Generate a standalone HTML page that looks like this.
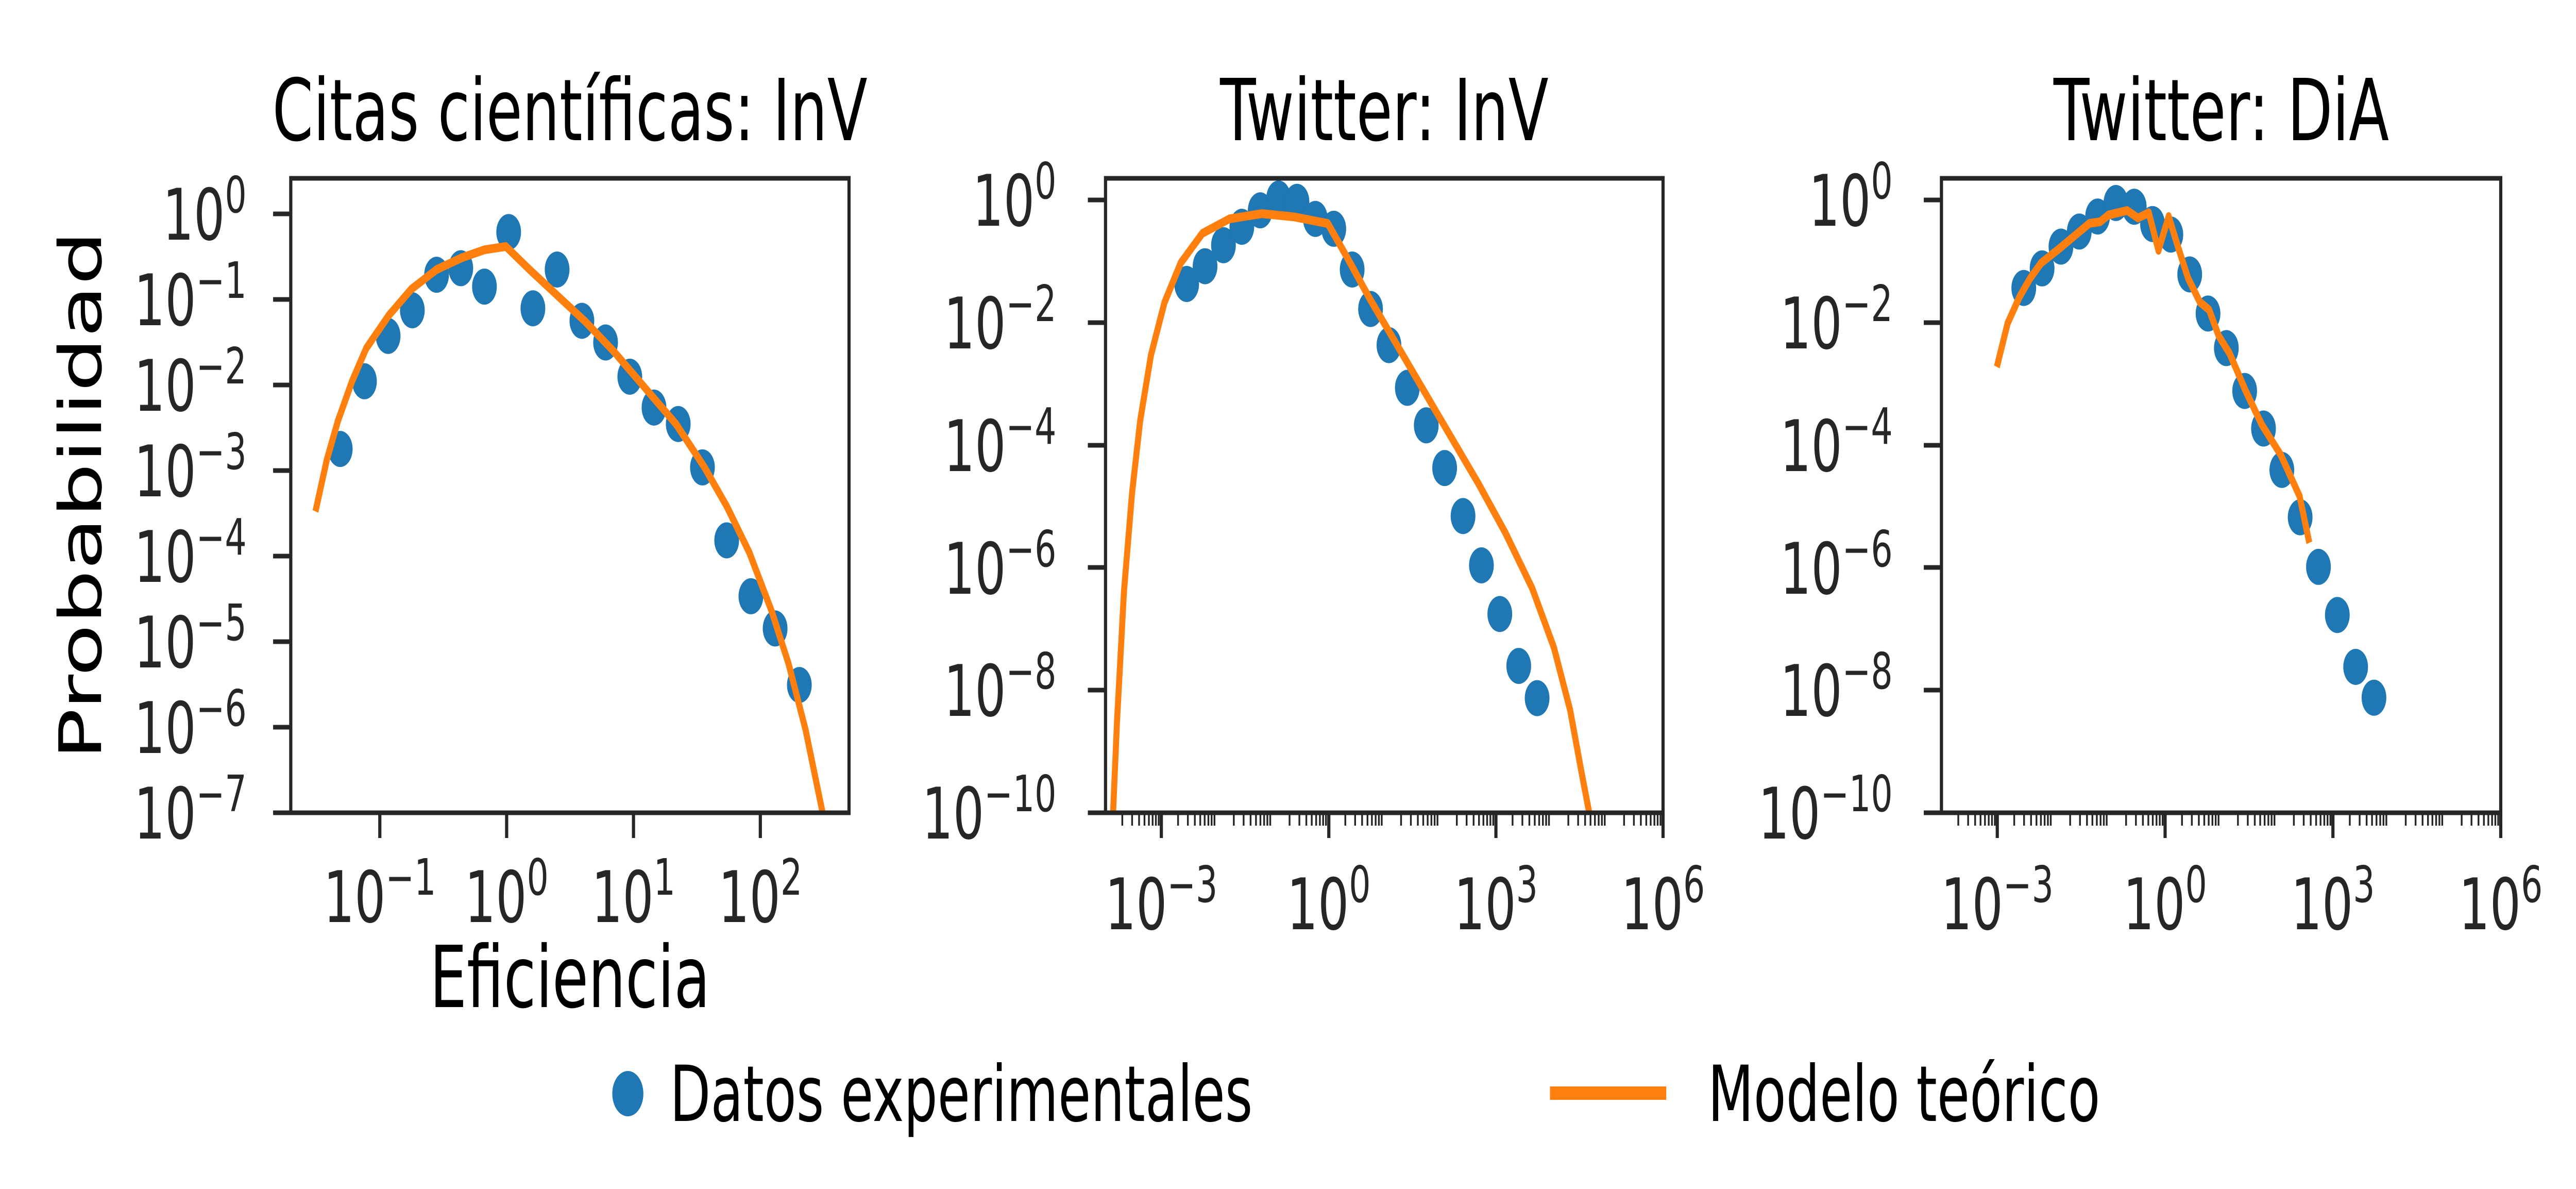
<!DOCTYPE html>
<html><head><meta charset="utf-8"><style>
html,body{margin:0;padding:0;background:#fff;width:100vw;height:100vh;overflow:hidden;}
svg{display:block;width:100vw;height:100vh;}
text{font-family:"DejaVu Sans","Liberation Sans",sans-serif;}
.t{font-size:138px;fill:#262626;}
.s{font-size:97px;}
.ttl{font-size:166px;fill:#000;}
.lg{font-size:150px;fill:#000;}
</style></head><body>
<svg id="c" viewBox="0 0 7291 2307" preserveAspectRatio="none" xmlns="http://www.w3.org/2000/svg">
<rect width="7291" height="2307" fill="#fff"/>
<g id="plots"></g>
<text class="ttl" x="1613" y="272" text-anchor="middle">Citas científicas: InV</text>
<text class="ttl" x="3918" y="272" text-anchor="middle">Twitter: InV</text>
<text class="ttl" x="6287" y="272" text-anchor="middle">Twitter: DiA</text>
<text class="ttl" x="1613" y="1954" text-anchor="middle">Eficiencia</text>
<text class="ttl" transform="translate(286,961) rotate(-90)" text-anchor="middle">Probabilidad</text>
<g class="t" text-anchor="end">
<text x="698" y="465">10<tspan class="s" dy="-53">0</tspan></text>
<text x="698" y="631">10<tspan class="s" dy="-53">−1</tspan></text>
<text x="698" y="797">10<tspan class="s" dy="-53">−2</tspan></text>
<text x="698" y="963">10<tspan class="s" dy="-53">−3</tspan></text>
<text x="698" y="1129">10<tspan class="s" dy="-53">−4</tspan></text>
<text x="698" y="1295">10<tspan class="s" dy="-53">−5</tspan></text>
<text x="698" y="1461">10<tspan class="s" dy="-53">−6</tspan></text>
<text x="698" y="1627">10<tspan class="s" dy="-53">−7</tspan></text>
</g>
<g class="t" text-anchor="middle">
<text x="1075" y="1789">10<tspan class="s" dy="-53">−1</tspan></text>
<text x="1434" y="1789">10<tspan class="s" dy="-53">0</tspan></text>
<text x="1793" y="1789">10<tspan class="s" dy="-53">1</tspan></text>
<text x="2152" y="1789">10<tspan class="s" dy="-53">2</tspan></text>
</g>
<g class="t" text-anchor="end">
<text x="2990" y="438">10<tspan class="s" dy="-53">0</tspan></text>
<text x="2990" y="676">10<tspan class="s" dy="-53">−2</tspan></text>
<text x="2990" y="914">10<tspan class="s" dy="-53">−4</tspan></text>
<text x="2990" y="1152">10<tspan class="s" dy="-53">−6</tspan></text>
<text x="2990" y="1389">10<tspan class="s" dy="-53">−8</tspan></text>
<text x="2990" y="1627">10<tspan class="s" dy="-53">−10</tspan></text>
</g>
<g class="t" text-anchor="middle">
<text x="3287" y="1803">10<tspan class="s" dy="-53">−3</tspan></text>
<text x="3761" y="1803">10<tspan class="s" dy="-53">0</tspan></text>
<text x="4234" y="1803">10<tspan class="s" dy="-53">3</tspan></text>
<text x="4707" y="1803">10<tspan class="s" dy="-53">6</tspan></text>
</g>
<g class="t" text-anchor="end">
<text x="5357" y="438">10<tspan class="s" dy="-53">0</tspan></text>
<text x="5357" y="676">10<tspan class="s" dy="-53">−2</tspan></text>
<text x="5357" y="914">10<tspan class="s" dy="-53">−4</tspan></text>
<text x="5357" y="1152">10<tspan class="s" dy="-53">−6</tspan></text>
<text x="5357" y="1389">10<tspan class="s" dy="-53">−8</tspan></text>
<text x="5357" y="1627">10<tspan class="s" dy="-53">−10</tspan></text>
</g>
<g class="t" text-anchor="middle">
<text x="5653" y="1803">10<tspan class="s" dy="-53">−3</tspan></text>
<text x="6128" y="1803">10<tspan class="s" dy="-53">0</tspan></text>
<text x="6603" y="1803">10<tspan class="s" dy="-53">3</tspan></text>
<text x="7078" y="1803">10<tspan class="s" dy="-53">6</tspan></text>
</g>
<circle cx="1777" cy="2122" r="44" fill="#1f77b4"/>
<text class="lg" x="1896" y="2175">Datos experimentales</text>
<line x1="4387" y1="2121" x2="4716" y2="2121" stroke="#ff7f0e" stroke-width="26"/>
<text class="lg" x="4834" y="2175">Modelo teórico</text>
</svg>
<script>
(function(){
var NS="http://www.w3.org/2000/svg",g=document.getElementById("plots");
function el(n,a){var e=document.createElementNS(NS,n);for(var k in a)e.setAttribute(k,a[k]);g.appendChild(e);return e;}
var SP="#262626";
function panel(L,R,T,B,dots,line,ox,sx,sy,yt,xt,minor){
  var d="";line.forEach(function(p,i){d+=(i?"L":"M")+(ox+p[0]/sx).toFixed(1)+","+(p[1]/sy).toFixed(1);});
  dots.forEach(function(p){el("circle",{cx:ox+p[0]/sx,cy:p[1]/sy,r:35,fill:"#1f77b4"});});
  el("path",{d:d,fill:"none",stroke:"#ff7f0e","stroke-width":17,"stroke-linejoin":"round"});
  yt.forEach(function(y){el("line",{x1:L-50,y1:y,x2:L,y2:y,stroke:SP,"stroke-width":9});});
  xt.forEach(function(x){el("line",{x1:x,y1:B,x2:x,y2:B+49,stroke:SP,"stroke-width":9});});
  if(minor){
    var dec=(R-L)/10;
    for(var k=-4;k<6;k++)for(var m=2;m<10;m++){
      var x=L+(k+4+Math.log10(m))*dec;
      el("line",{x1:x,y1:B,x2:x,y2:B+25,stroke:SP,"stroke-width":5});
    }
  }
  el("rect",{x:L,y:T,width:R-L,height:B-T,fill:"none",stroke:SP,"stroke-width":9});
}
panel(823,2403,346,1577,
 [[604,683],[647,580],[689,511],[732,472],[775,418],[818,408],[860,436],[903,353],[946,469],[989,410],[1033,488],[1075,521],[1118,573],[1161,620],[1204,645],[1247,711],[1290,822],[1333,907],[1376,956],[1419,1042]],
 [[560,778],[580,700],[600,640],[625,580],[650,530],[690,480],[730,440],[775,410],[820,392],[860,380],[898,375],[940,410],[990,450],[1040,490],[1090,535],[1140,585],[1200,645],[1250,710],[1290,770],[1330,840],[1370,930],[1400,1010],[1430,1110],[1460,1235]],
 0,0.6272,0.784,
 [415,581,747,913,1079,1245,1411,1577],[1075,1434,1793,2152],false);
panel(3129,4707,346,1577,
 [[561,432],[595,405],[629,373],[663,345],[697,320],[731,302],[765,307],[799,333],[833,348],[867,410],[901,470],[935,525],[969,590],[1004,647],[1038,712],[1072,785],[1106,860],[1140,934],[1175,1013],[1209,1062]],
 [[425,1235],[432,1100],[445,900],[460,750],[475,640],[495,540],[520,460],[550,400],[590,355],[640,333],[700,325],[760,330],[822,340],[860,395],[900,455],[950,525],[1000,595],[1050,665],[1100,735],[1150,810],[1200,895],[1240,985],[1270,1080],[1290,1170],[1305,1235]],
 2500,0.6533,0.784,
 [388,626,864,1101,1339,1577],[3287,3761,4234,4707],true);
panel(5495,7078,346,1577,
 [[543,383],[577,357],[612,328],[646,308],[680,288],[714,270],[748,275],[782,298],[816,312],[851,365],[885,417],[919,463],[953,520],[988,570],[1022,625],[1056,688],[1090,754],[1125,818],[1159,887],[1193,928]],
 [[493,488],[513,430],[535,395],[555,370],[575,350],[610,330],[640,312],[665,297],[685,295],[700,286],[735,280],[755,290],[775,283],[793,333],[812,288],[830,330],[848,370],[870,402],[887,412],[905,447],[925,470],[955,520],[985,565],[1020,605],[1055,660],[1073,722]],
 4900,0.6558,0.6855,
 [388,626,864,1101,1339,1577],[5653,6128,6603,7078],true);
})();
</script>
</body></html>
